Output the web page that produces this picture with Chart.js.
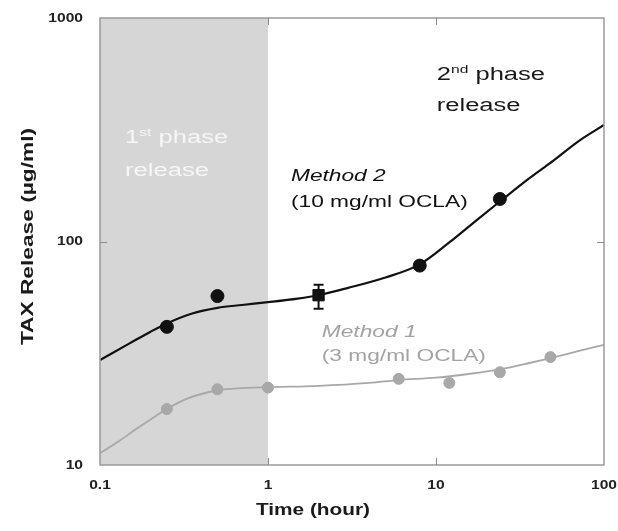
<!DOCTYPE html>
<html>
<head>
<meta charset="utf-8">
<script src="https://cdn.jsdelivr.net/npm/chart.js@4/dist/chart.umd.min.js"></script>
<style>
  html, body { margin: 0; padding: 0; background: #fff; }
  canvas { display: block; }
</style>
</head>
<body>
<canvas id="grafico" width="618" height="531"></canvas>
<script>
// marcas dos eixos
const xTicks = [0.1, 1, 10, 100];
const yTicks = [10, 100, 1000];

// 1a fase (faixa cinza)
const faseInicio = 0.1;
const faseFim = 1;

// Method 2 (10 mg/ml OCLA) - pontos medidos
const m2Tempo = [0.25, 0.5, 2, 8, 24];
const m2Liberacao = [41.5, 57, 57.5, 78, 155];
const m2ErroMin = [null, null, 50, null, null];
const m2ErroMax = [null, null, 64, null, null];

// Method 1 (3 mg/ml OCLA) - pontos medidos
const m1Tempo = [0.25, 0.5, 1, 6, 12, 24, 48];
const m1Liberacao = [17.8, 21.8, 22.2, 24.3, 23.3, 26, 30.4];

// curvas ajustadas
const m2CurvaTempo = [0.1, 0.15, 0.2, 0.25, 0.35, 0.5, 0.7, 1, 1.5, 2, 3, 5, 8, 12, 18, 24, 36, 50, 70, 100];
const m2CurvaValor = [29.5, 35, 39.5, 43, 47.5, 50.5, 52, 53.5, 55.5, 57.5, 62, 69, 79, 99, 127, 151, 192, 230, 280, 332];
const m1CurvaTempo = [0.1, 0.13, 0.16, 0.2, 0.25, 0.33, 0.5, 0.7, 1, 2, 4, 6, 10, 16, 24, 36, 50, 70, 100];
const m1CurvaValor = [11.3, 12.8, 14.3, 16, 17.8, 19.8, 21.6, 22.1, 22.3, 22.6, 23.3, 24, 24.6, 25.6, 26.8, 28.6, 30.3, 32.3, 34.5];

const PRETO = "#111111";
const CINZA = "#a8a8a8";

function pares(xs, ys) {
  return xs.map((v, i) => ({ x: v, y: ys[i] }));
}

// escreve texto esticado na horizontal (partes com fonte/deslocamento proprios)
function textoEsticado(ctx, partes, x, y, esc, cor, alinhar) {
  ctx.save();
  ctx.fillStyle = cor;
  ctx.textBaseline = "middle";
  ctx.textAlign = "left";
  let total = 0;
  partes.forEach((p) => {
    ctx.font = p.font;
    total += ctx.measureText(p.t).width;
  });
  ctx.translate(x, y);
  ctx.scale(esc, 1);
  let cx = 0;
  if (alinhar == "center") cx = -total / 2;
  if (alinhar == "right") cx = -total;
  partes.forEach((p) => {
    ctx.font = p.font;
    ctx.fillText(p.t, cx, p.dy || 0);
    cx += ctx.measureText(p.t).width;
  });
  ctx.restore();
}

const FONTE = '"Liberation Sans", Arial, sans-serif';

const moldura = {
  id: "moldura",
  beforeDatasetsDraw(chart) {
    const { ctx, chartArea: a, scales: { x } } = chart;
    ctx.save();
    ctx.fillStyle = "#d6d6d6";
    const x0 = x.getPixelForValue(faseInicio);
    const x1 = x.getPixelForValue(faseFim);
    ctx.fillRect(x0, a.top, x1 - x0, a.bottom - a.top);
    ctx.restore();
  },
  afterDatasetsDraw(chart) {
    const { ctx, chartArea: a, scales: { x, y } } = chart;
    ctx.save();

    // barras de erro
    ctx.strokeStyle = PRETO;
    ctx.lineWidth = 2;
    m2Tempo.forEach((t, i) => {
      if (m2ErroMin[i] == null) return;
      const px = x.getPixelForValue(t);
      const y0 = y.getPixelForValue(m2ErroMin[i]);
      const y1 = y.getPixelForValue(m2ErroMax[i]);
      ctx.beginPath();
      ctx.moveTo(px, y0);
      ctx.lineTo(px, y1);
      ctx.moveTo(px - 5, y0);
      ctx.lineTo(px + 5, y0);
      ctx.moveTo(px - 5, y1);
      ctx.lineTo(px + 5, y1);
      ctx.stroke();
    });

    // moldura e tracinhos internos
    ctx.strokeStyle = "#9a9a9a";
    ctx.lineWidth = 1.5;
    ctx.strokeRect(a.left, a.top, a.right - a.left, a.bottom - a.top);
    ctx.strokeStyle = "#8a8a8a";
    ctx.lineWidth = 1;
    ctx.beginPath();
    xTicks.slice(1, -1).forEach((t) => {
      const px = Math.round(x.getPixelForValue(t)) + 0.5;
      ctx.moveTo(px, a.top);
      ctx.lineTo(px, a.top + 7);
      ctx.moveTo(px, a.bottom);
      ctx.lineTo(px, a.bottom - 7);
    });
    yTicks.slice(1, -1).forEach((t) => {
      const py = Math.round(y.getPixelForValue(t)) + 0.5;
      ctx.moveTo(a.left, py);
      ctx.lineTo(a.left + 7, py);
      ctx.moveTo(a.right, py);
      ctx.lineTo(a.right - 7, py);
    });
    ctx.stroke();
    ctx.restore();

    // rotulos dos eixos
    const fTick = "bold 13px " + FONTE;
    xTicks.forEach((t) => {
      textoEsticado(ctx, [{ t: String(t), font: fTick }], x.getPixelForValue(t), a.bottom + 20, 1.2, "#222", "center");
    });
    yTicks.forEach((t) => {
      textoEsticado(ctx, [{ t: String(t), font: fTick }], a.left - 17, y.getPixelForValue(t), 1.2, "#222", "right");
    });

    // titulos dos eixos
    const fTitulo = "bold 16px " + FONTE;
    textoEsticado(ctx, [{ t: "Time (hour)", font: fTitulo }], chart.width / 2 + 4, 511, 1.3, "#1a1a1a", "center");
    ctx.save();
    ctx.translate(29, (a.top + a.bottom) / 2 - 5);
    ctx.rotate(-Math.PI / 2);
    textoEsticado(ctx, [{ t: "TAX Release (\u00b5g/ml)", font: fTitulo }], 0, 0, 1.42, "#1a1a1a", "center");
    ctx.restore();

    // anotacoes
    const fFase = "18px " + FONTE;
    const fSup = "11px " + FONTE;
    const fMet = "italic 16px " + FONTE;
    const fSub = "16px " + FONTE;
    const branco = "#f6f6f6";
    textoEsticado(ctx, [{ t: "1", font: fFase }, { t: "st", font: fSup, dy: -5 }, { t: " phase", font: fFase }],
      x.getPixelForValue(0.141), y.getPixelForValue(290), 1.42, branco);
    textoEsticado(ctx, [{ t: "release", font: fFase }],
      x.getPixelForValue(0.141), y.getPixelForValue(207), 1.42, branco);
    textoEsticado(ctx, [{ t: "2", font: fFase }, { t: "nd", font: fSup, dy: -5 }, { t: " phase", font: fFase }],
      x.getPixelForValue(10.1), y.getPixelForValue(556), 1.42, "#1a1a1a");
    textoEsticado(ctx, [{ t: "release", font: fFase }],
      x.getPixelForValue(10.1), y.getPixelForValue(403), 1.42, "#1a1a1a");
    textoEsticado(ctx, [{ t: "Method 2", font: fMet }],
      x.getPixelForValue(1.37), y.getPixelForValue(196), 1.42, "#111");
    textoEsticado(ctx, [{ t: "(10 mg/ml OCLA)", font: fSub }],
      x.getPixelForValue(1.37), y.getPixelForValue(150), 1.42, "#111");
    textoEsticado(ctx, [{ t: "Method 1", font: fMet }],
      x.getPixelForValue(2.09), y.getPixelForValue(39), 1.42, "#a3a3a3");
    textoEsticado(ctx, [{ t: "(3 mg/ml OCLA)", font: fSub }],
      x.getPixelForValue(2.09), y.getPixelForValue(30.4), 1.42, "#a3a3a3");
  },
};

const ctx = document.getElementById("grafico").getContext("2d");
const chart = new Chart(ctx, {
  type: "scatter",
  data: {
    datasets: [
      {
        label: "Method 2",
        data: pares(m2Tempo, m2Liberacao),
        backgroundColor: PRETO,
        borderColor: PRETO,
        pointStyle: ["circle", "circle", "rect", "circle", "circle"],
        pointRadius: [6.5, 6.5, 8, 6.5, 6.5],
        order: 1,
      },
      {
        label: "Method 1",
        data: pares(m1Tempo, m1Liberacao),
        backgroundColor: CINZA,
        borderColor: CINZA,
        pointRadius: 5.5,
        order: 1,
      },
      {
        label: "Method 2 ajuste",
        data: pares(m2CurvaTempo, m2CurvaValor),
        showLine: true,
        borderColor: PRETO,
        borderWidth: 2.2,
        pointRadius: 0,
        cubicInterpolationMode: "monotone",
        order: 2,
      },
      {
        label: "Method 1 ajuste",
        data: pares(m1CurvaTempo, m1CurvaValor),
        showLine: true,
        borderColor: CINZA,
        borderWidth: 1.8,
        pointRadius: 0,
        cubicInterpolationMode: "monotone",
        order: 2,
      },
    ],
  },
  options: {
    responsive: false,
    animation: false,
    devicePixelRatio: 1,
    layout: { padding: { top: 18, right: 14, left: 0, bottom: 0 } },
    plugins: {
      legend: { display: false },
      tooltip: { enabled: false },
    },
    scales: {
      x: {
        type: "logarithmic",
        min: 0.1,
        max: 100,
        grid: { display: false },
        border: { display: false },
        ticks: { display: false },
        afterFit: (s) => { s.height = 66; },
      },
      y: {
        type: "logarithmic",
        min: 10,
        max: 1000,
        grid: { display: false },
        border: { display: false },
        ticks: { display: false },
        afterFit: (s) => { s.width = 100; },
      },
    },
  },
  plugins: [moldura],
});
</script>
</body>
</html>
